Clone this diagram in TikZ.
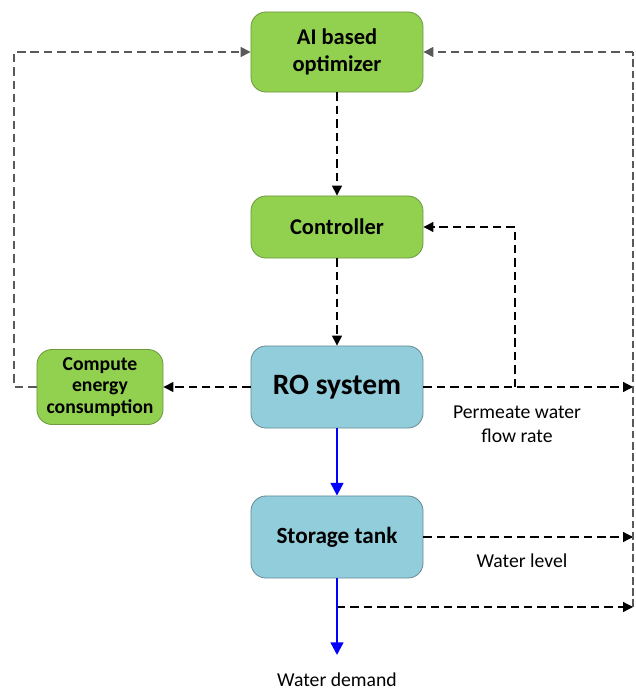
\documentclass[tikz,border=0pt]{standalone}
\usepackage{fontspec}
\setmainfont{Carlito}
\usetikzlibrary{arrows.meta}
\definecolor{boxgreen}{HTML}{92D050}
\definecolor{greenedge}{HTML}{6F9A3E}
\definecolor{boxblue}{HTML}{92CDDC}
\definecolor{blueedge}{HTML}{6A8C96}
\definecolor{busgray}{HTML}{595959}
\tikzset{
  greenbox/.style={draw=greenedge, fill=boxgreen, rounded corners=0.375cm, line width=0.6pt, align=center, inner sep=2pt, font=\bfseries\fontsize{16}{19}\selectfont},
  bluebox/.style={draw=blueedge, fill=boxblue, rounded corners=0.375cm, line width=0.6pt, align=center, inner sep=2pt, font=\bfseries\fontsize{16.5}{19}\selectfont},
  sig/.style={line width=0.9pt, dash pattern=on 6pt off 3.5pt, -{Triangle[length=7pt,width=7pt]}},
  fb/.style={line width=1.1pt, color=busgray, dash pattern=on 6pt off 3.5pt, -{Triangle[length=7pt,width=7pt]}},
  bus/.style={line width=1.9pt, color=busgray, dash pattern=on 5.5pt off 2.5pt},
  flow/.style={line width=1.6pt, color=blue, -{Triangle[length=9pt,width=9pt]}},
  lbl/.style={align=center, font=\fontsize{14}{17}\selectfont}
}
\begin{document}
\begin{tikzpicture}[x=0.025cm,y=-0.025cm]
	%%%%% START %%%%%
	\useasboundingbox (0,0) rectangle (636,691);
	
	\node[greenbox, minimum width=4.3cm, minimum height=2cm] (opt) at (337,52) {AI based\\optimizer};
	\node[greenbox, minimum width=4.3cm, minimum height=1.55cm] (ctrl) at (337,227) {Controller};
	\node[bluebox, minimum width=4.3cm, minimum height=2.05cm, font=\bfseries\fontsize{21}{25}\selectfont] (ro) at (337,387) {RO system};
	\node[greenbox, minimum width=3.15cm, minimum height=1.875cm, font=\bfseries\fontsize{14}{15}\selectfont] (energy) at (100,387) {Compute\\energy\\consumption};
	\node[bluebox, minimum width=4.3cm, minimum height=2.05cm] (tank) at (337,537) {Storage tank};
	
	\coordinate (busTop) at (633,52);
	\coordinate (busBot) at (633,607);
	\coordinate (loopL) at (14,52);
	\coordinate (tap) at (515,387);
	\coordinate (tankTap) at (337,607);
	\coordinate (demand) at (337,655);
	
	\draw[sig] (opt) -- (ctrl);
	\draw[sig] (ctrl) -- (ro);
	\draw[sig] (ro) -- (energy);
	\draw[fb] (energy.west) -| (loopL) -- (opt.west);
	
	\draw[sig] (ro.east) -- (ro.east -| busTop);
	\draw[sig] (tap) |- (ctrl.east);
	\draw[sig] (tank.east) -- (tank.east -| busTop);
	\draw[sig] (tankTap) -- (busBot);
	\draw[bus] (busBot) -- (busTop);
	\draw[fb] (busTop) -- (opt.east);
	
	\draw[flow] (ro) -- (tank);
	\draw[flow] (tank) -- (demand);
	
	\node[lbl] (flowlbl) at (517,424) {Permeate water\\flow rate};
	\node[lbl] (levellbl) at (522,561) {Water level};
	\node[lbl] (demandlbl) at (337,680) {Water demand};
	%%%%% END %%%%%
\end{tikzpicture}
\end{document}
